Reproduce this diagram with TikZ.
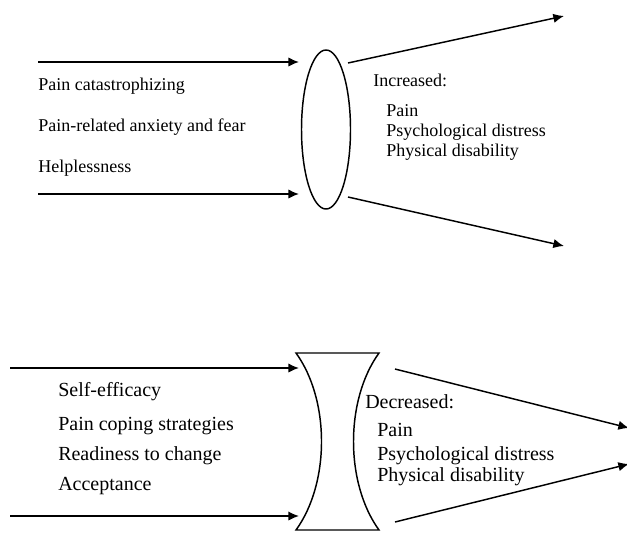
\documentclass[tikz,border=0pt]{standalone}
\usepackage{fontspec}
\setmainfont{Liberation Serif}
\usetikzlibrary{arrows.meta}
\tikzset{
  conn/.style={line width=1.1pt,-{Latex[length=8pt,width=7pt]}},
  lens/.style={line width=1.1pt},
  txta/.style={anchor=base west,inner sep=0pt,font=\fontsize{13.5}{16}\selectfont},
  txtb/.style={anchor=base west,inner sep=0pt,font=\fontsize{15}{18}\selectfont}
}
\begin{document}
\begin{tikzpicture}[x=0.75pt,y=-0.75pt]
\useasboundingbox (0,0) rectangle (627,532);
% top panel
\coordinate (a1s) at (38,62);   \coordinate (a1e) at (299,62);
\coordinate (a2s) at (38,194);  \coordinate (a2e) at (299,194);
\draw[conn] (a1s) -- (a1e);
\draw[conn] (a2s) -- (a2e);
\draw[lens] (326,129.5) ellipse [x radius=24.5, y radius=79.5];
\coordinate (o1s) at (348,63);  \coordinate (o1e) at (564,16);
\coordinate (o2s) at (348,197); \coordinate (o2e) at (564,246);
\draw[conn] (o1s) -- (o1e);
\draw[conn] (o2s) -- (o2e);
\node[txta] (t1) at (38,90) {Pain catastrophizing};
\node[txta] (t2) at (38,131) {Pain-related anxiety and fear};
\node[txta] (t3) at (38,172) {Helplessness};
\node[txta] (r0) at (373,86.5) {Increased:};
\node[txta] (r1) at (386,116) {Pain};
\node[txta] (r2) at (386,136.5) {Psychological distress};
\node[txta] (r3) at (386,156.5) {Physical disability};
% bottom panel
\coordinate (b1s) at (10,368);  \coordinate (b1e) at (299,368);
\coordinate (b2s) at (10,516);  \coordinate (b2e) at (299,516);
\draw[conn] (b1s) -- (b1e);
\draw[conn] (b2s) -- (b2e);
\coordinate (hTL) at (296,353); \coordinate (hTR) at (379,353);
\coordinate (hBL) at (296,530); \coordinate (hBR) at (379,530);
\draw[lens,line join=miter] (hTL) -- (hTR) .. controls (345,400) and (345,483) .. (hBR)
  -- (hBL) .. controls (330,483) and (330,400) .. (hTL) -- cycle;
\coordinate (p1s) at (395,369); \coordinate (p1e) at (629,428);
\coordinate (p2s) at (395,522); \coordinate (p2e) at (629,464);
\draw[conn] (p1s) -- (p1e);
\draw[conn] (p2s) -- (p2e);
\node[txtb] (s1) at (58,396.5) {Self-efficacy};
\node[txtb] (s2) at (58,430) {Pain coping strategies};
\node[txtb] (s3) at (58,460.5) {Readiness to change};
\node[txtb] (s4) at (58,490.5) {Acceptance};
\node[txtb] (d0) at (365,408.5) {Decreased:};
\node[txtb] (d1) at (377,436.5) {Pain};
\node[txtb] (d2) at (377,460) {Psychological distress};
\node[txtb] (d3) at (377,481.5) {Physical disability};
\end{tikzpicture}
\end{document}
